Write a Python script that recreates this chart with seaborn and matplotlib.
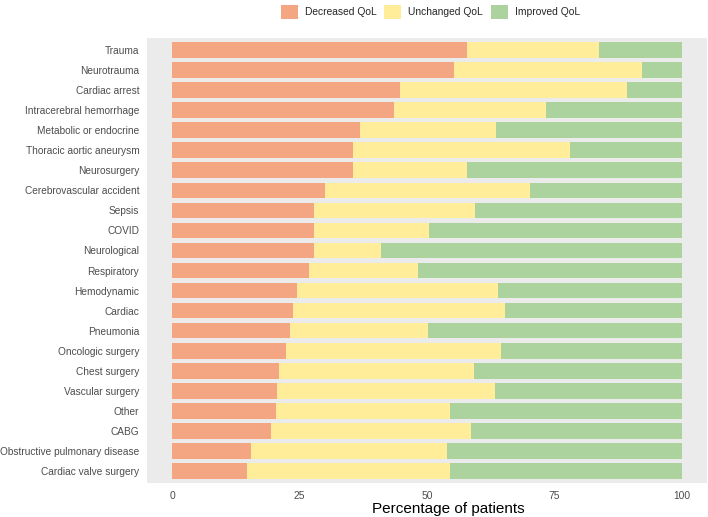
import matplotlib
matplotlib.use("Agg")
import matplotlib.pyplot as plt
import seaborn as sns
import pandas as pd
import numpy as np
from matplotlib.patches import Patch

categories = ["Trauma", "Neurotrauma", "Cardiac arrest", "Intracerebral hemorrhage",
              "Metabolic or endocrine", "Thoracic aortic aneurysm", "Neurosurgery",
              "Cerebrovascular accident", "Sepsis", "COVID", "Neurological", "Respiratory",
              "Hemodynamic", "Cardiac", "Pneumonia", "Oncologic surgery", "Chest surgery",
              "Vascular surgery", "Other", "CABG", "Obstructive pulmonary disease",
              "Cardiac valve surgery"]
decreased = [57.9, 55.3, 44.6, 43.5, 36.8, 35.5, 35.5, 30.0, 27.9, 27.8, 27.8, 26.9,
             24.5, 23.7, 23.0, 22.4, 21.0, 20.6, 20.3, 19.4, 15.4, 14.6]
unchanged = [25.9, 36.9, 44.6, 29.9, 26.8, 42.6, 22.4, 40.3, 31.5, 22.6, 13.1, 21.3,
             39.4, 41.7, 27.1, 42.1, 38.2, 42.8, 34.3, 39.3, 38.6, 39.9]
improved = [16.2, 7.8, 10.8, 26.6, 36.4, 21.9, 42.1, 29.7, 40.6, 49.6, 59.1, 51.8,
            36.1, 34.6, 49.9, 35.5, 40.8, 36.6, 45.4, 41.3, 46.0, 45.5]
series_names = ["Decreased QoL", "Unchanged QoL", "Improved QoL"]
colors = ["#F4A582", "#FFED99", "#ACD39E"]

df = pd.DataFrame({"cat": categories, "dec": decreased, "unc": unchanged, "imp": improved})
df["c1"] = df["dec"]
df["c2"] = df["dec"] + df["unc"]
df["c3"] = df["dec"] + df["unc"] + df["imp"]

sns.set_theme(style="white")
plt.rcParams["font.family"] = ["Liberation Sans", "DejaVu Sans"]

fig = plt.figure(figsize=(7.08, 5.17), dpi=100)
ax = fig.add_axes([0.2076, 0.0658, 0.791, 0.8607])
ax.set_facecolor("#EBEBEB")

for col, c in zip(["c3", "c2", "c1"], colors[::-1]):
    sns.barplot(data=df, x=col, y="cat", order=categories, color=c, width=0.78,
                linewidth=0, saturation=1, ax=ax)

ax.set_xlim(-5, 105)
ax.set_ylim(len(categories) - 0.4, -0.6)
ax.set_xticks([0, 25, 50, 75, 100])
ax.set_xticklabels(["0", "25", "50", "75", "100"])
ax.tick_params(axis="x", length=2.5, width=0.6, color="#333333",
               labelsize=7.4, labelcolor="#4D4D4D", pad=3)
ax.tick_params(axis="y", length=0, labelsize=7.25, labelcolor="#4D4D4D", pad=5.5)
for s in ax.spines.values():
    s.set_visible(False)
ax.set_xlabel("Percentage of patients", fontsize=11, color="black")
ax.xaxis.set_label_coords(0.5375, -0.043)
ax.set_ylabel("")

handles = [Patch(facecolor=c, edgecolor="none") for c in colors]
fig.legend(handles, series_names, loc="upper center", bbox_to_anchor=(0.608, 1.008),
           ncol=3, frameon=False, fontsize=7.4, handlelength=1.65, handleheight=1.65,
           handletextpad=0.68, columnspacing=0.75)

fig.savefig("out.png", dpi=100)
